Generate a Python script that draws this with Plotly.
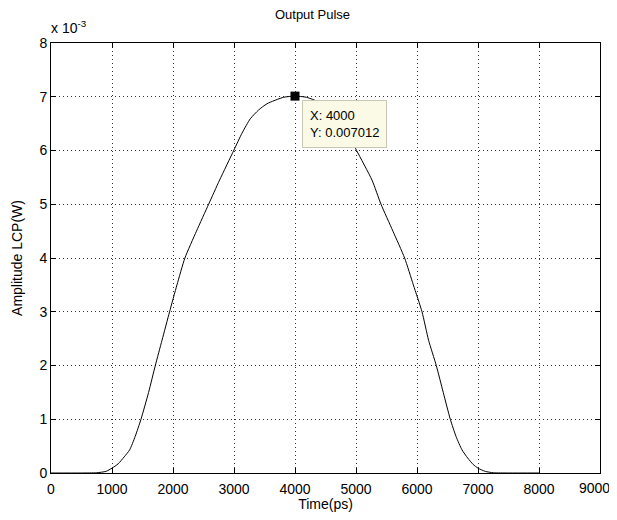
import plotly.graph_objects as go

# Time axis (ps) and amplitude (W)
time_ps = [0, 500, 750, 900, 1000, 1100, 1200, 1289, 1380, 1475, 1600, 1710, 1820, 1944,
           2065, 2195, 2385, 2584, 2764, 3000, 3130, 3267, 3400, 3541, 3813, 4000,
           4187, 4459, 4600, 4733, 4870, 5010, 5262, 5410, 5605, 5797, 5940, 6082,
           6190, 6316, 6430, 6546, 6640, 6738, 6830, 6920, 7000, 7120, 7250, 7500, 8000]
amplitude_w = [0.0, 0.0, 0.000005, 0.00003, 0.00009, 0.00017, 0.00030, 0.00043, 0.00068, 0.00100,
               0.00150, 0.00200, 0.00247, 0.00300, 0.00350, 0.00400, 0.00450, 0.00500,
               0.00545, 0.00601, 0.00632, 0.00659, 0.00675, 0.00687, 0.00699, 0.007012,
               0.00699, 0.00687, 0.00675, 0.00659, 0.00632, 0.00600, 0.00545, 0.00500,
               0.00450, 0.00400, 0.00350, 0.00300, 0.00247, 0.00200, 0.00150, 0.00100,
               0.00068, 0.00043, 0.00028, 0.00016, 0.00009, 0.00003, 0.000005, 0.0, 0.0]

x_ticks = [0, 1000, 2000, 3000, 4000, 5000, 6000, 7000, 8000, 9000]
x_tick_labels = ["0", "1000", "2000", "3000", "4000", "5000", "6000", "7000", "8000", "9000"]
y_ticks = [0, 0.001, 0.002, 0.003, 0.004, 0.005, 0.006, 0.007, 0.008]
y_tick_labels = ["0", "1", "2", "3", "4", "5", "6", "7", "8"]

tip_x = [4000]
tip_y = [0.007012]

font_family = "Liberation Sans, Arial, sans-serif"

fig = go.Figure()
fig.add_trace(go.Scatter(x=time_ps, y=amplitude_w, mode="lines",
                         line=dict(color="black", width=1, shape="spline", smoothing=0.6),
                         hoverinfo="skip", showlegend=False))
fig.add_trace(go.Scatter(x=tip_x, y=tip_y, mode="markers",
                         marker=dict(symbol="square", size=9, color="black"),
                         showlegend=False))

fig.add_annotation(x=tip_x[0], y=tip_y[0], xref="x", yref="y",
                   text=f"X: {tip_x[0]}<br>Y: {tip_y[0]}",
                   showarrow=False, xanchor="left", yanchor="top",
                   xshift=7, yshift=-4, align="left",
                   bgcolor="#fafae6", bordercolor="#c8c8b4", borderwidth=1, borderpad=7,
                   font=dict(family=font_family, size=13, color="black"))

fig.add_annotation(x=0, y=1, xref="paper", yref="paper",
                   text="x 10<sup>-3</sup>", showarrow=False,
                   xanchor="left", yanchor="bottom", xshift=-2, yshift=5,
                   font=dict(family=font_family, size=14, color="black"))

# the last x tick label sits at the right page edge; draw it right-aligned so it stays whole
fig.add_annotation(x=x_ticks[-1], y=0, xref="x", yref="y",
                   text=x_tick_labels[-1], showarrow=False,
                   xanchor="right", yanchor="middle", xshift=12, yshift=-15,
                   font=dict(family=font_family, size=14, color="black"))

axis_common = dict(showline=True, linecolor="black", linewidth=1, mirror="ticks",
                   ticks="inside", ticklen=5, tickcolor="black",
                   showgrid=True, gridcolor="#333333", gridwidth=1, griddash="1px,3px",
                   zeroline=False, automargin=False, ticklabeloverflow="allow",
                   tickfont=dict(family=font_family, size=14, color="black"))

fig.update_xaxes(range=[0, 9000], tickvals=x_ticks,
                 ticktext=x_tick_labels[:-1] + [""], ticklabelstandoff=3,
                 title=dict(text="Time(ps)", font=dict(family=font_family, size=14, color="black"),
                            standoff=6),
                 **axis_common)
fig.update_yaxes(range=[0, 0.008], tickvals=y_ticks, ticktext=y_tick_labels,
                 title=dict(text="Amplitude LCP(W)", font=dict(family=font_family, size=14, color="black"),
                            standoff=13),
                 **axis_common)

fig.update_layout(
    width=609, height=504,
    margin=dict(l=43, r=17, t=35, b=39),
    paper_bgcolor="white", plot_bgcolor="white",
    title=dict(text="Output Pulse", x=0.5, xanchor="center", y=0.996, yanchor="top",
               pad=dict(t=0), font=dict(family=font_family, size=13, color="black")),
    showlegend=False,
)

fig.write_html("out.html")
